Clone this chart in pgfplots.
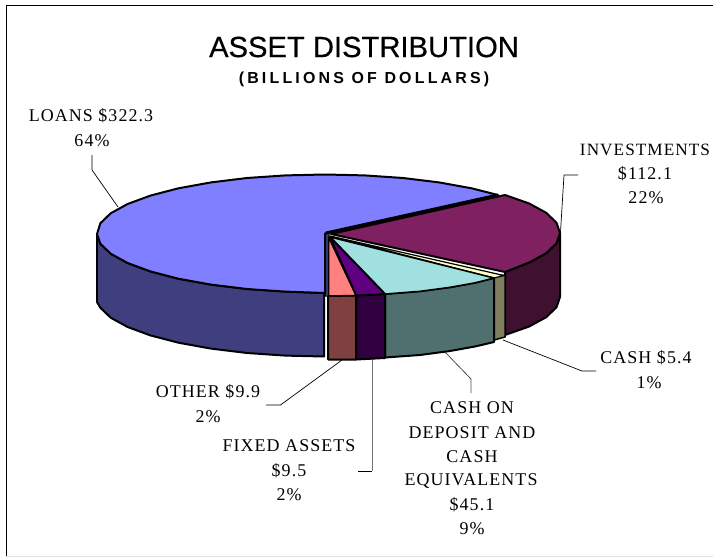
\documentclass[border=0pt]{standalone}
\usepackage{pgfplots}
\pgfplotsset{compat=1.18}
\usepackage{fontspec}
\setmainfont[LetterSpace=6]{Liberation Serif}
\newfontfamily\titlefont[FakeBold=0.4]{Liberation Sans}
\newfontfamily\subfont[LetterSpace=20]{Liberation Sans}
\definecolor{cLoan}{HTML}{7F7FFF}\definecolor{cLoanS}{HTML}{3F3F7F}
\definecolor{cInv}{HTML}{7F2060}\definecolor{cInvS}{HTML}{3F1030}
\definecolor{cCyan}{HTML}{A0E0E0}\definecolor{cCyanS}{HTML}{507070}
\definecolor{cCream}{HTML}{FFFFC0}\definecolor{cCreamS}{HTML}{7F7F60}
\definecolor{cPur}{HTML}{600080}\definecolor{cPurS}{HTML}{300040}
\definecolor{cPink}{HTML}{FF8080}\definecolor{cPinkS}{HTML}{7F4040}
\begin{document}
\begin{tikzpicture}
\begin{axis}[width=713bp,height=557bp,scale only axis,xmin=0,xmax=713,ymin=0,ymax=557,y dir=reverse,hide axis,clip=false,
  every axis plot/.append style={line join=round}]
% page extent
\addplot[draw=none] coordinates {(0,0)(713,557)};
% frame
\addplot[black,line width=1pt] coordinates {(6,556.5)(6,5.5)(712.5,5.5)};
\addplot[black!12,line width=1pt] coordinates {(6,556)(712.5,556)};
% leaders
\addplot[black,line width=.7pt] coordinates {(92,155)(92,170)(118,207)};
\addplot[black,line width=.7pt] coordinates {(578,175)(564,175)(560,240)};
\addplot[black,line width=.7pt] coordinates {(503,340)(582,371)(596,371)};
\addplot[black!70,line width=.8pt] coordinates {(445,352)(471,379)(471,393)};
\addplot[black!55,line width=1pt] coordinates {(372,358)(372,471)};
\addplot[black,line width=.7pt] coordinates {(372,471)(358,471)};
\addplot[black,line width=.7pt] coordinates {(342,360)(280.5,405)(266,405)};
% side faces
\addplot[draw=black,fill=cLoanS,line width=2pt] coordinates {(97,234)(100.4,243.8)(110.7,253.7)(127.6,263)(150.4,271.4)(178.4,278.7)(211,284.6)(247,289)(285.3,291.6)(324,293)(324,356.5)(285.3,355.6)(247,353)(211,348.6)(178.4,342.7)(150.4,335.4)(127.6,327)(110.7,317.7)(100.4,307.8)(97,302)} --cycle;
\addplot[draw=black,fill=cInvS,line width=2pt] coordinates {(560,233)(560,297)(556.5,307.3)(546.2,317.2)(529.2,326.5)(505,335)(505,272)(529.2,262.5)(546.2,253.2)(556.5,243.3)} --cycle;
\addplot[draw=black,fill=cCreamS,line width=1.5pt] coordinates {(494,277)(505,275)(505,337)(494,340)} --cycle;
\addplot[draw=black,fill=cCyanS,line width=2pt] coordinates {(385,294)(420,291.3)(450,287.3)(475,282.8)(494,278)(494,342)(475,346.5)(450,351)(420,355)(385,357.5)} --cycle;
\addplot[draw=black,fill=cPurS,line width=2pt] coordinates {(356,295.5)(385,294)(385,358)(356,359.5)} --cycle;
\addplot[draw=black,fill=cPinkS,line width=2pt] coordinates {(328,296)(356,295.5)(356,359.5)(328,359.5)} --cycle;
% inner strip
\addplot[draw=black,fill=cLoanS,line width=1pt] coordinates {(325,233.5)(329,232)(329,296)(325,296)} --cycle;
% top faces
\addplot[draw=black,fill=cLoan,line width=2pt] coordinates {(325,233.5)(498,195)(471.6,188.3)(439,182.4)(403,178)(364.7,175.4)(325,174.5)(285.3,175.4)(247,178)(211,182.4)(178.4,188.3)(150.4,195.6)(127.6,204)(110.7,213.3)(100.4,223.2)(97,234)(100.4,243.8)(110.7,253.7)(127.6,263)(150.4,271.4)(178.4,278.7)(211,284.6)(247,289)(285.3,291.6)(325,293)} --cycle;
\addplot[draw=black,fill=cInv,line width=2pt] coordinates {(331,234)(505,195)(529.2,203.5)(546.2,212.8)(556.5,222.7)(560,233)(556.5,243.3)(546.2,253.2)(529.2,262.5)(505,272)} --cycle;
\addplot[draw=black,fill=cCream,line width=1.2pt] coordinates {(330,236)(494,278)(504,275.5)} --cycle;
\addplot[draw=black,fill=cCyan,line width=1.5pt] coordinates {(330,237)(385,294)(420,291.3)(450,287.3)(475,282.8)(494,278)} --cycle;
\addplot[draw=black,fill=cPur,line width=2pt] coordinates {(330,237)(356,295.5)(385,294)} --cycle;
\addplot[draw=black,fill=cPink,line width=1.5pt] coordinates {(328.5,237)(328.5,296)(356,295.5)} --cycle;
\addplot[black,line width=3pt] coordinates {(326,233)(498,195)};
% text
\node[inner sep=0pt] at (axis cs:364,47) {\titlefont\fontsize{29.3}{30}\selectfont ASSET DISTRIBUTION};
\node[inner sep=0pt] at (axis cs:364,79) {\subfont\bfseries\fontsize{16}{18}\selectfont (BILLIONS OF DOLLARS)};
\def\lab#1#2#3{\node[inner sep=0pt,overlay] at (axis cs:#1,#2) {\fontsize{18}{20}\selectfont #3};}
\lab{91}{116}{LOANS \$322.3}
\lab{92}{141}{64\%}
\node[inner sep=0pt,overlay] at (axis cs:645,150) {\fontsize{17.3}{20}\selectfont INVESTMENTS};
\lab{645}{174}{\$112.1}
\lab{646}{198}{22\%}
\lab{646}{358}{CASH \$5.4}
\lab{649}{383}{1\%}
\lab{208}{392}{OTHER \$9.9}
\lab{208}{417}{2\%}
\lab{289}{446}{FIXED ASSETS}
\lab{289}{471}{\$9.5}
\lab{289}{495}{2\%}
\lab{472}{408}{CASH ON}
\lab{472}{433}{DEPOSIT AND}
\lab{472}{457}{CASH}
\lab{471}{481}{EQUIVALENTS}
\lab{472}{505}{\$45.1}
\lab{472}{529}{9\%}
\end{axis}
\end{tikzpicture}
\end{document}
